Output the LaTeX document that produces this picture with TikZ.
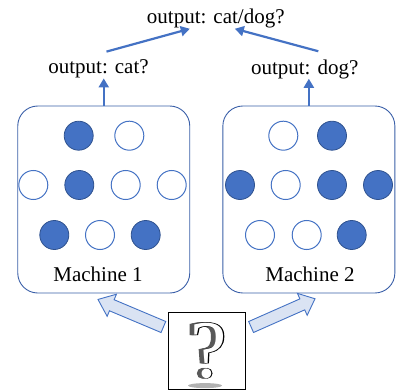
\documentclass[tikz,border=0pt]{standalone}
\usepackage{fontspec}
\setmainfont{Liberation Serif}
\newfontfamily\qboldfont[FakeBold=1.2]{Liberation Serif}
\usetikzlibrary{arrows.meta,calc}
\definecolor{accent}{HTML}{4472C4}
\definecolor{accentdark}{HTML}{2F528F}
\definecolor{frameblue}{HTML}{3A5FA8}
\definecolor{paleblue}{HTML}{DAE3F3}
\tikzset{
  caption/.style={font=\fontsize{21}{21}\selectfont, inner sep=0pt},
  machine/.style={draw=frameblue, line width=0.9pt, rounded corners=20pt,
    minimum width=172pt, minimum height=187pt, inner sep=0pt},
  unit on/.style={circle, minimum size=29pt, inner sep=0pt, fill=accent,
    draw=accentdark, line width=0.8pt},
  unit off/.style={circle, minimum size=29pt, inner sep=0pt, fill=white,
    draw=accent, line width=1pt},
  flow/.style={draw=accent, line width=2.2pt,
    -{Triangle[length=9pt,width=10pt]}},
  block arrow/.style={draw=accent, fill=paleblue, line width=0.9pt,
    line join=miter},
  qglyph/.style={font=\fontsize{82}{82}\selectfont, inner sep=0pt, anchor=base},
}
% a question mark with a grey extrusion to its left and a thin black rim
\newcommand{\solidq}{%
  {\qboldfont\color{black!65}%
   \rlap{\kern-5pt?}\rlap{\kern-4pt?}\rlap{\kern-3pt?}\rlap{\kern-2pt?}}%
  {\qboldfont\color{black}\rlap{?}}%
  {\color{white}?}}
\begin{document}
\begin{tikzpicture}[x=1pt,y=-1pt]
  \useasboundingbox (0,0) rectangle (398,390);

  % the two machines
  \node[machine] (m1) at (103.75,199.5) {};
  \node[machine] (m2) at (308.85,199.5) {};

  % units of machine 1
  \node[unit on]  (a1) at (78.7,135.7) {};
  \node[unit off] (a2) at (129.3,135.7) {};
  \node[unit off] (a3) at (33.3,185) {};
  \node[unit on]  (a4) at (79.3,185) {};
  \node[unit off] (a5) at (125.7,185) {};
  \node[unit off] (a6) at (171.7,185) {};
  \node[unit on]  (a7) at (54.3,235) {};
  \node[unit off] (a8) at (100,235) {};
  \node[unit on]  (a9) at (145.7,235) {};
  \node[caption] (l1) at (98,274) {Machine 1};

  % units of machine 2
  \node[unit off] (b1) at (283.3,135.7) {};
  \node[unit on]  (b2) at (332,135.7) {};
  \node[unit on]  (b3) at (240,185) {};
  \node[unit off] (b4) at (285.7,185) {};
  \node[unit on]  (b5) at (332,185) {};
  \node[unit on]  (b6) at (378,185) {};
  \node[unit off] (b7) at (260,235) {};
  \node[unit off] (b8) at (306.7,235) {};
  \node[unit on]  (b9) at (351.7,235) {};
  \node[caption] (l2) at (310,274) {Machine 2};

  % outputs
  \node[caption] (top) at (215.8,18.5) {output: cat/dog?};
  \node[caption] (cat) at (98.5,69) {output: cat?};
  \node[caption] (dog) at (304.7,69) {output: dog?};

  \draw[flow] (m1.north) -- (m1.north |- cat.south);
  \draw[flow] (m2.north) -- (m2.north |- dog.south);
  \draw[flow] ([xshift=8pt,yshift=8pt]cat.north) -- ([xshift=-26pt,yshift=-0.5pt]top.south);
  \draw[flow] ([xshift=13.6pt,yshift=8pt]dog.north) -- ([xshift=19pt,yshift=-0.5pt]top.south);

  % input picture with a question mark
  \node[draw=black, line width=1.2pt, fill=white, minimum width=77pt,
    minimum height=77pt, inner sep=0pt] (pic) at (207,350.8) {};
  \fill[gray!60] (205,385.6) ellipse [x radius=17pt, y radius=2.5pt];
  \node[qglyph] (qm) at (209,377) {\solidq};

  % block arrows from the picture to the machines
  \coordinate (lt) at ($(pic.west)+(-4.5,-23.8)$);
  \coordinate (lp) at ($(m1.south)+(-5.75,6)$);
  \coordinate (lh) at ($(lt)!56pt!(lp)$);
  \draw[block arrow] ($(lt)!6pt!90:(lp)$) -- ($(lh)!6pt!90:(lp)$)
    -- ($(lh)!12pt!90:(lp)$) -- (lp) -- ($(lh)!12pt!-90:(lp)$)
    -- ($(lh)!6pt!-90:(lp)$) -- ($(lt)!6pt!-90:(lp)$) -- cycle;

  \coordinate (rt) at ($(pic.east)+(5,-23.8)$);
  \coordinate (rp) at ($(m2.south)+(6.15,5.3)$);
  \coordinate (rh) at ($(rt)!56pt!(rp)$);
  \draw[block arrow] ($(rt)!6pt!90:(rp)$) -- ($(rh)!6pt!90:(rp)$)
    -- ($(rh)!12pt!90:(rp)$) -- (rp) -- ($(rh)!12pt!-90:(rp)$)
    -- ($(rh)!6pt!-90:(rp)$) -- ($(rt)!6pt!-90:(rp)$) -- cycle;
\end{tikzpicture}
\end{document}
